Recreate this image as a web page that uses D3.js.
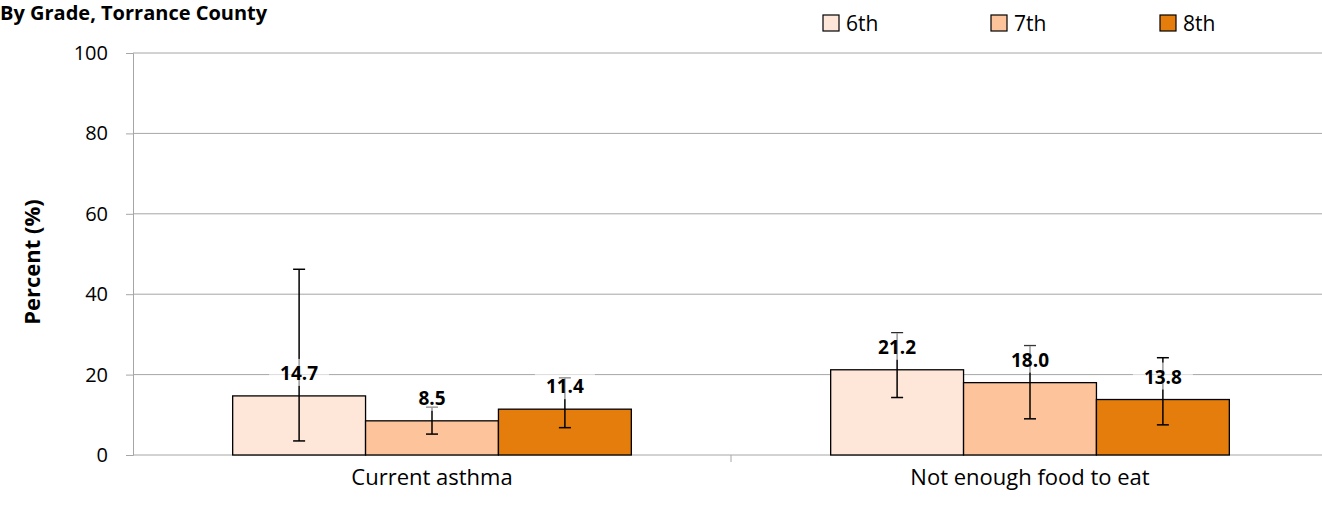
<!DOCTYPE html>
<html>
<head>
<meta charset="utf-8">
<script src="https://cdn.jsdelivr.net/npm/d3@7"></script>
<style>
  body { margin: 0; background: #fff; }
  text { font-family: "Open Sans", "Noto Sans", sans-serif; }
</style>
</head>
<body>
<div id="chart"></div>
<script>
// Data
const categories = ["Current asthma", "Not enough food to eat"];
const grades = ["6th", "7th", "8th"];
const values = {
  "6th": [14.7, 21.2],
  "7th": [8.5, 18.0],
  "8th": [11.4, 13.8]
};
const lower = {
  "6th": [3.5, 14.3],
  "7th": [5.2, 9.0],
  "8th": [6.8, 7.5]
};
const upper = {
  "6th": [46.2, 30.4],
  "7th": [11.9, 27.2],
  "8th": [19.2, 24.2]
};
const yTicks = [0, 20, 40, 60, 80, 100];
const colors = ["#fee6d9", "#fdc39a", "#e47d0b"];

const width = 1322, height = 508;
const margin = { left: 133, right: -7, top: 53, bottom: 53 };

const svg = d3.select("#chart").append("svg")
  .attr("width", width)
  .attr("height", height);

const x0 = d3.scaleBand().domain(categories)
  .range([margin.left, width - margin.right]);
const x1 = d3.scaleBand().domain(grades)
  .range([0, x0.bandwidth()]).paddingOuter(0.75);
const y = d3.scaleLinear().domain([0, 100])
  .range([height - margin.bottom, margin.top]);
const color = d3.scaleOrdinal().domain(grades).range(colors);

// Title
svg.append("text")
  .attr("x", 0).attr("y", 20)
  .attr("font-size", 20).attr("font-weight", "bold")
  .text("By Grade, Torrance County");

// Gridlines
svg.append("g").selectAll("line").data(yTicks.filter(d => d > 0)).join("line")
  .attr("x1", margin.left).attr("x2", width)
  .attr("y1", d => y(d)).attr("y2", d => y(d))
  .attr("stroke", "#a6a6a6").attr("stroke-width", 1);

// Y axis
const yAxis = svg.append("g")
  .attr("transform", `translate(${margin.left},0)`)
  .call(d3.axisLeft(y).tickValues(yTicks).tickSize(7).tickPadding(18));
yAxis.selectAll("line, path").attr("stroke", "#a6a6a6");
yAxis.selectAll("text").attr("font-size", 20).attr("fill", "#000")
  .style("font-family", "'Open Sans', sans-serif");

// X axis
const xAxis = svg.append("g")
  .attr("transform", `translate(0,${y(0)})`)
  .call(d3.axisBottom(x0).tickSize(0).tickPadding(14));
xAxis.select("path").attr("stroke", "#a6a6a6").attr("d", `M${margin.left},0H${width}`);
xAxis.selectAll("text").attr("font-size", 22).attr("fill", "#000")
  .style("font-family", "'Open Sans', sans-serif");
// category dividers
svg.append("g").selectAll("line").data(categories.slice(1)).join("line")
  .attr("x1", d => x0(d)).attr("x2", d => x0(d))
  .attr("y1", y(0)).attr("y2", y(0) + 7)
  .attr("stroke", "#a6a6a6");

// Bars
const groups = svg.append("g").selectAll("g").data(categories).join("g")
  .attr("transform", d => `translate(${x0(d)},0)`);

const items = groups.selectAll("g").data((c, i) => grades.map(g => ({
  grade: g, v: values[g][i], lo: lower[g][i], hi: upper[g][i]
}))).join("g");

items.append("rect")
  .attr("x", d => x1(d.grade))
  .attr("width", x1.bandwidth())
  .attr("y", d => y(d.v))
  .attr("height", d => y(0) - y(d.v))
  .attr("fill", d => color(d.grade))
  .attr("stroke", "#000").attr("stroke-width", 1.3);

// Error bars
const cx = d => x1(d.grade) + x1.bandwidth() / 2;
items.append("line")
  .attr("x1", cx).attr("x2", cx)
  .attr("y1", d => y(d.lo)).attr("y2", d => y(d.hi))
  .attr("stroke", "#000").attr("stroke-width", 1.5);
items.append("line")
  .attr("x1", d => cx(d) - 6).attr("x2", d => cx(d) + 6)
  .attr("y1", d => y(d.lo)).attr("y2", d => y(d.lo))
  .attr("stroke", "#000").attr("stroke-width", 1.5);
items.append("line")
  .attr("x1", d => cx(d) - 6).attr("x2", d => cx(d) + 6)
  .attr("y1", d => y(d.hi)).attr("y2", d => y(d.hi))
  .attr("stroke", "#000").attr("stroke-width", 1.5);

// Labels with translucent white backgrounds
items.append("rect")
  .attr("x", d => cx(d) - 30)
  .attr("y", d => y(d.v) - 37)
  .attr("width", 60).attr("height", 27)
  .attr("fill", "#fff").attr("opacity", 0.6);
items.append("text")
  .attr("x", cx)
  .attr("y", d => y(d.v) - 16)
  .attr("text-anchor", "middle")
  .attr("font-size", 19).attr("font-weight", "bold")
  .text(d => d.v.toFixed(1));

// Y label
svg.append("text")
  .attr("transform", `translate(40,${(y(0) + y(100)) / 2 + 8}) rotate(-90)`)
  .attr("text-anchor", "middle")
  .attr("font-size", 22).attr("font-weight", "bold")
  .text("Percent (%)");

// Legend
const legendX = [823, 991, 1160];
const legend = svg.append("g").selectAll("g").data(grades).join("g")
  .attr("transform", (d, i) => `translate(${legendX[i]},15)`);
legend.append("rect")
  .attr("width", 16).attr("height", 16)
  .attr("fill", d => color(d))
  .attr("stroke", "#000").attr("stroke-width", 1.2);
legend.append("text")
  .attr("x", 23).attr("y", 16)
  .attr("font-size", 21)
  .text(d => d);
</script>
</body>
</html>
